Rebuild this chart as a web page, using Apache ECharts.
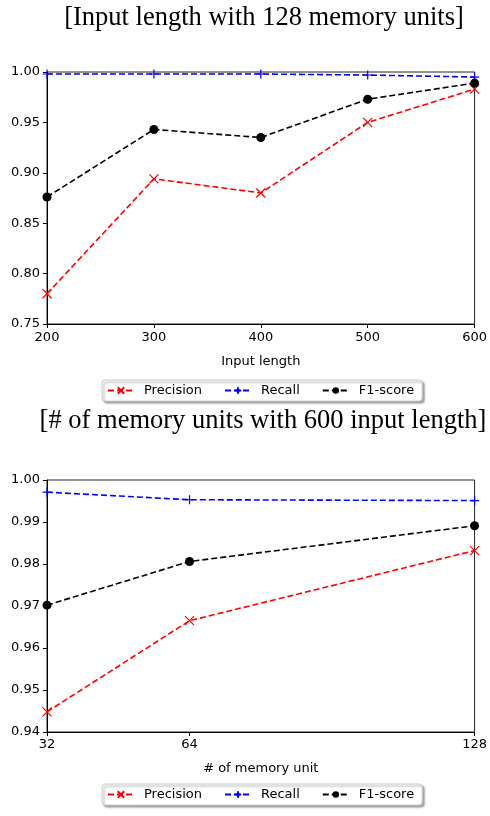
<!DOCTYPE html>
<html>
<head>
<meta charset="utf-8">
<script src="https://cdn.jsdelivr.net/npm/echarts@6/dist/echarts.min.js"></script>
<style>
  html, body { margin: 0; padding: 0; background: #fff; }
  #chart { width: 490px; height: 816px; }
</style>
</head>
<body>
<div id="chart"></div>
<script>
// top panel: input length (128 memory units)
var inputLengths = [200, 300, 400, 500, 600];
var precisionLen = [0.780, 0.894, 0.880, 0.950, 0.983];
var recallLen = [0.998, 0.998, 0.998, 0.997, 0.995];
var f1Len = [0.876, 0.943, 0.935, 0.973, 0.989];

// bottom panel: memory units (600 input length)
var memoryUnits = [32, 64, 128];
var precisionMem = [0.9448, 0.9665, 0.9832];
var recallMem = [0.9971, 0.9953, 0.9951];
var f1Mem = [0.9702, 0.9806, 0.9891];

var names = ["Precision", "Recall", "F1-score"];
var colors = ["#ff0000", "#0000ff", "#000000"];
var symbolX = "path://M0,0L10,10M10,0L0,10";
var symbolPlus = "path://M5,0L5,10M0,5L10,5";

function pairs(xs, ys) {
    return xs.map(function (x, i) { return [x, ys[i]]; });
}

function makeSeries(idx, xs, prec, rec, f1) {
    var base = {
        type: "line",
        xAxisIndex: idx,
        yAxisIndex: idx,
        clip: true,
        animation: false
    };
    return [
        Object.assign({}, base, {
            name: names[0],
            data: pairs(xs, prec),
            symbol: symbolX,
            symbolSize: 9,
            color: colors[0],
            itemStyle: { color: "rgba(0,0,0,0)", borderColor: colors[0], borderWidth: 1.2 },
            lineStyle: { width: 1.6, type: [6, 3], color: colors[0] }
        }),
        Object.assign({}, base, {
            name: names[1],
            data: pairs(xs, rec),
            symbol: symbolPlus,
            symbolSize: 9,
            color: colors[1],
            itemStyle: { color: "rgba(0,0,0,0)", borderColor: colors[1], borderWidth: 1.2 },
            lineStyle: { width: 1.6, type: [6, 3], color: colors[1] }
        }),
        Object.assign({}, base, {
            name: names[2],
            data: pairs(xs, f1),
            symbol: "circle",
            symbolSize: 9,
            color: colors[2],
            itemStyle: { color: colors[2] },
            lineStyle: { width: 1.6, type: [6, 3], color: colors[2] }
        })
    ];
}

var tickFont = { fontFamily: "DejaVu Sans", fontSize: 13, color: "#000" };
var axisLine = { show: true, lineStyle: { color: "#000", width: 1 } };
var axisTick = { show: true, inside: false, length: 4, lineStyle: { color: "#000" } };

function legendAt(top) {
    return {
        top: top,
        left: 102,
        data: names,
        itemWidth: 26,
        itemHeight: 8,
        itemGap: 22,
        padding: [4, 8, 4, 5],
        backgroundColor: "#fff",
        borderColor: "#cccccc",
        borderWidth: 1,
        borderRadius: 3,
        shadowColor: "rgba(0,0,0,0.35)",
        shadowBlur: 2,
        shadowOffsetX: 2,
        shadowOffsetY: 2,
        selectedMode: false,
        textStyle: { fontFamily: "DejaVu Sans", fontSize: 13, color: "#000", padding: [0, 0, 0, 5] }
    };
}

var option = {
    backgroundColor: "#fff",
    animation: false,
    title: [
        {
            text: "[Input length with 128 memory units]",
            left: 259, top: 0, textAlign: "center",
            textStyle: { fontFamily: "Liberation Serif", fontSize: 26.5, fontWeight: "normal", color: "#000" }
        },
        {
            text: "[# of memory units with 600 input length]",
            left: 258, top: 403, textAlign: "center",
            textStyle: { fontFamily: "Liberation Serif", fontSize: 26.5, fontWeight: "normal", color: "#000" }
        }
    ],
    legend: [legendAt(380), legendAt(784)],
    grid: [
        { left: 47, top: 72, width: 430, height: 252, show: true, borderColor: "#222", borderWidth: 1, backgroundColor: "#fff" },
        { left: 47, top: 480, width: 430, height: 252, show: true, borderColor: "#222", borderWidth: 1, backgroundColor: "#fff" }
    ],
    xAxis: [
        {
            type: "value", gridIndex: 0, min: 200, max: 600, interval: 100,
            name: "Input length", nameLocation: "middle", nameGap: 31,
            nameTextStyle: tickFont,
            axisLine: axisLine, axisTick: axisTick,
            axisLabel: Object.assign({ margin: 7 }, tickFont),
            splitLine: { show: false }
        },
        {
            type: "value", gridIndex: 1, min: 32, max: 128,
            name: "# of memory unit", nameLocation: "middle", nameGap: 30,
            nameTextStyle: tickFont,
            axisLine: axisLine,
            axisTick: Object.assign({ customValues: memoryUnits }, axisTick),
            axisLabel: Object.assign({ margin: 6, customValues: memoryUnits }, tickFont),
            splitLine: { show: false }
        }
    ],
    yAxis: [
        {
            type: "value", gridIndex: 0, min: 0.75, max: 1.0, interval: 0.05,
            axisLine: axisLine, axisTick: axisTick,
            axisLabel: Object.assign({ margin: 7, formatter: function (v) { return v.toFixed(2); } }, tickFont),
            splitLine: { show: false }
        },
        {
            type: "value", gridIndex: 1, min: 0.94, max: 1.0, interval: 0.01,
            axisLine: axisLine, axisTick: axisTick,
            axisLabel: Object.assign({ margin: 7, formatter: function (v) { return v.toFixed(2); } }, tickFont),
            splitLine: { show: false }
        }
    ],
    series: makeSeries(0, inputLengths, precisionLen, recallLen, f1Len)
        .concat(makeSeries(1, memoryUnits, precisionMem, recallMem, f1Mem))
};

var chart = echarts.init(document.getElementById("chart"));
chart.setOption(option);
</script>
</body>
</html>
